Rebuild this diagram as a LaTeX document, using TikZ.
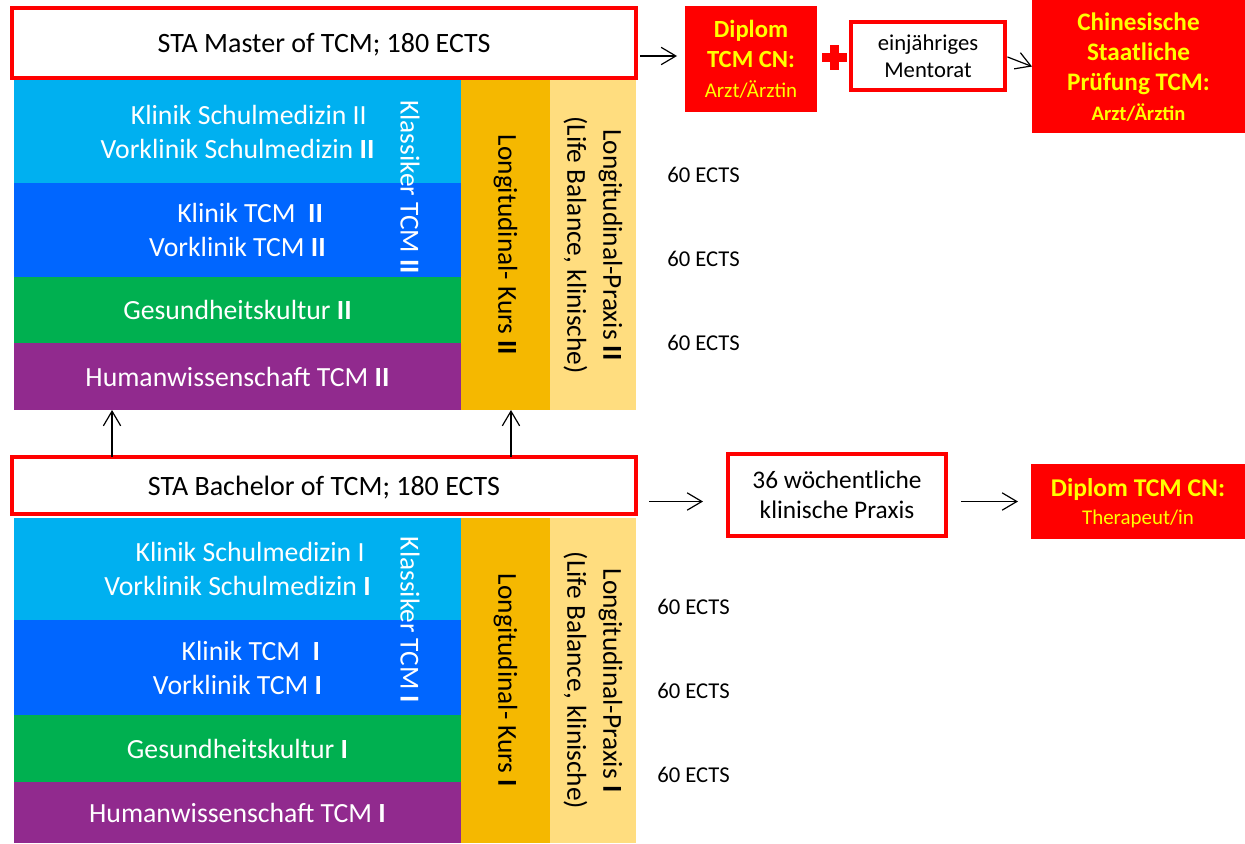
\documentclass[tikz,border=0pt]{standalone}
\usepackage{fontspec}
\setmainfont{Carlito}
\usetikzlibrary{arrows.meta}
\definecolor{cLB}{HTML}{00B0F0}
\definecolor{cB}{HTML}{0066FF}
\definecolor{cG}{HTML}{00B050}
\definecolor{cP}{HTML}{912A8E}
\definecolor{cO}{HTML}{F5B800}
\definecolor{cY}{HTML}{FFDD7F}
\definecolor{cR}{HTML}{FF0000}
\definecolor{cYt}{HTML}{FFFF00}
\begin{document}
\begin{tikzpicture}[x=0.75pt,y=-0.75pt,
  sz/.style 2 args={minimum width=#1*0.75pt,minimum height=#2*0.75pt},
  cell/.style={inner sep=0pt,outer sep=0pt,draw=none,align=center},
  rowtxt/.style={cell,text=white,text depth=0pt,font=\fontsize{20.8}{25.5}\selectfont},
  coltxt/.style={cell,text=black,rotate=-90,font=\fontsize{20.5}{27}\selectfont},
  titlebox/.style={cell,draw=cR,line width=3pt,fill=white,text depth=0pt,font=\fontsize{21}{25}\selectfont},
  framebox/.style={cell,draw=cR,line width=3pt,fill=white,text depth=0pt},
  redbox/.style={cell,fill=cR,text=cYt,text depth=0pt},
  ectslbl/.style={inner sep=0pt,anchor=west,font=\fontsize{17}{20}\selectfont},
  arr/.style={-{Straight Barb[length=11pt,width=13pt]},line width=0.9pt}
]
\useasboundingbox (0,0) rectangle (1245,843);

% ---------- Master block ----------
\node[titlebox,sz={624}{70}] (master) at (324,43) {STA Master of TCM; 180 ECTS};
\node[rowtxt,fill=cLB,sz={447}{103}] (m1) at (237.5,131.5) {\hspace*{17pt}Klinik Schulmedizin II\\Vorklinik Schulmedizin \textbf{II}};
\node[rowtxt,fill=cB,sz={447}{94}] (m2) at (237.5,230) {\hspace*{19pt}Klinik TCM\ \ \textbf{II}\\Vorklinik TCM \textbf{II}};
\node[rowtxt,fill=cG,sz={447}{66}] (m3) at (237.5,310) {Gesundheitskultur \textbf{II}};
\node[rowtxt,fill=cP,sz={447}{67}] (m4) at (237.5,376.5) {Humanwissenschaft TCM \textbf{II}};
\node[coltxt,text=white] (k2) at (410,187) {Klassiker TCM \textbf{II}};
\node[coltxt,fill=cO,sz={330}{89}] (kurs2) at (505.5,245) {Longitudinal- Kurs \textbf{II}};
\node[coltxt,fill=cY,sz={330}{86}] (prax2) at (593,245) {Longitudinal-Praxis \textbf{II}\\(Life Balance, klinische)};

% ---------- Bachelor block ----------
\node[titlebox,sz={624}{57}] (bach) at (324,485.5) {STA Bachelor of TCM; 180 ECTS};
\node[rowtxt,fill=cLB,sz={447}{102}] (b1) at (237.5,569) {\hspace*{19pt}Klinik Schulmedizin I\\Vorklinik Schulmedizin \textbf{I}};
\node[rowtxt,fill=cB,sz={447}{95}] (b2) at (237.5,667.5) {\hspace*{20pt}Klinik TCM\ \ \textbf{I}\\Vorklinik TCM \textbf{I}};
\node[rowtxt,fill=cG,sz={447}{67}] (b3) at (237.5,748.5) {Gesundheitskultur \textbf{I}};
\node[rowtxt,fill=cP,sz={447}{61}] (b4) at (237.5,812.5) {Humanwissenschaft TCM \textbf{I}};
\node[coltxt,text=white] (k1) at (410,620) {Klassiker TCM \textbf{I}};
\node[coltxt,fill=cO,sz={325}{89}] (kurs1) at (505.5,680.5) {Longitudinal- Kurs \textbf{I}};
\node[coltxt,fill=cY,sz={325}{86}] (prax1) at (593,680.5) {Longitudinal-Praxis \textbf{I}\\(Life Balance, klinische)};

% ---------- ECTS labels ----------
\node[ectslbl] (e1) at (667,175) {60 ECTS};
\node[ectslbl] (e2) at (667,259) {60 ECTS};
\node[ectslbl] (e3) at (667,343) {60 ECTS};
\node[ectslbl] (e4) at (657,607) {60 ECTS};
\node[ectslbl] (e5) at (657,691) {60 ECTS};
\node[ectslbl] (e6) at (657,775) {60 ECTS};

% ---------- right side, top ----------
\node[redbox,sz={132}{106},font=\fontsize{18.5}{22.5}\selectfont\bfseries] (dip1) at (751,59)
  {Diplom\\TCM CN:\\{\mdseries\fontsize{15.7}{21}\selectfont Arzt/Ärztin}};
\fill[cR] (821.5,52.5) rectangle (846.5,61.5);
\fill[cR] (829.5,44.5) rectangle (838.5,69.5);
\node[framebox,sz={154}{68},font=\fontsize{17}{20.25}\selectfont] (ment) at (928,56) {einjähriges\\Mentorat};
\node[redbox,sz={213}{133},font=\fontsize{18.9}{22.5}\selectfont\bfseries] (chin) at (1138.5,66.5)
  {Chinesische\\Staatliche\\Prüfung TCM:\\{\fontsize{15.4}{21}\selectfont Arzt/Ärztin}};

% ---------- right side, bottom ----------
\node[framebox,sz={218}{82},font=\fontsize{19}{22.5}\selectfont] (w36) at (837,495) {36 wöchentliche\\klinische Praxis};
\node[redbox,sz={214}{75},font=\fontsize{19.2}{21}\selectfont\bfseries] (dip2) at (1138,501.5)
  {Diplom TCM CN:\\{\mdseries\fontsize{15.7}{21}\selectfont Therapeut/in}};

% ---------- connectors ----------
\draw[arr,shorten <=3pt,shorten >=6pt] (master.east |- ment) -- (dip1.west |- ment);
\draw[arr,shorten <=2pt] (ment.east) -- (chin.west);
\draw[arr,shorten <=9.75pt,shorten >=18.75pt] (bach.east |- dip2) -- (w36.west |- dip2);
\draw[arr,shorten <=11.25pt,shorten >=9.75pt] (w36.east |- dip2) -- (dip2.west);
\coordinate (u1) at ([xshift=-94.1pt]m4.south);
\coordinate (u2) at ([xshift=4.1pt]kurs2.east);
\draw[arr] (bach.north -| u1) -- (u1);
\draw[arr] (bach.north -| u2) -- (u2);
\end{tikzpicture}
\end{document}
